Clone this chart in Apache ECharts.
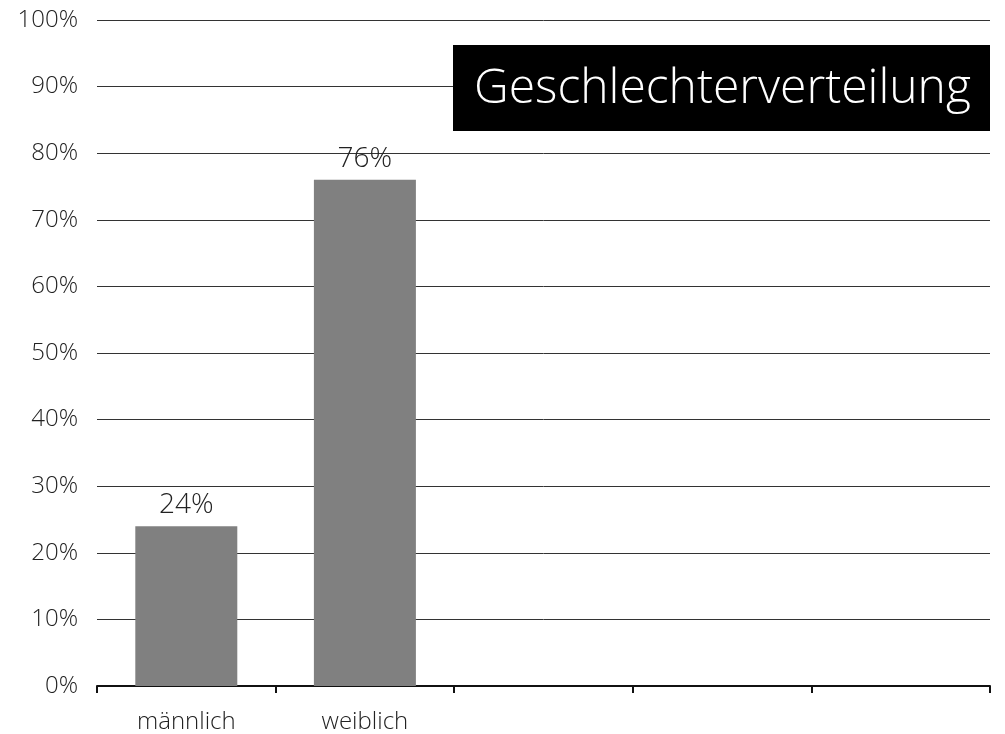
<!DOCTYPE html>
<html>
<head>
<meta charset="utf-8">
<script src="https://cdn.jsdelivr.net/npm/echarts@6/dist/echarts.min.js"></script>
<style>
    html, body {margin: 0; padding: 0; background: #fff;}
    #chart {width: 1005px; height: 734px;}
</style>
</head>
<body>
<div id="chart"></div>
<script>
// Geschlechterverteilung
const categories = ['männlich', 'weiblich', '', '', ''];
const shares = [24, 76, null, null, null];
const yTicks = [0, 10, 20, 30, 40, 50, 60, 70, 80, 90, 100];
const titleText = 'Geschlechterverteilung';

const font = '"Open Sans"';

let chart = echarts.init(document.getElementById('chart'));

let option = {
    animation: false,
    graphic: [{
        type: 'rect',
        left: 453,
        top: 45,
        z: 100,
        shape: {width: 537, height: 86},
        style: {fill: '#000'}
    }, {
        type: 'text',
        left: 474,
        top: 65,
        z: 101,
        style: {
            text: titleText,
            fill: '#fff',
            font: '300 48px ' + font
        }
    }],
    grid: {
        left: 97,
        right: 15,
        top: 20,
        bottom: 48
    },
    xAxis: {
        type: 'category',
        data: categories,
        axisLine: {lineStyle: {color: '#111', width: 2}},
        axisTick: {show: true, length: 7, lineStyle: {color: '#111', width: 2}},
        axisLabel: {
            color: '#222',
            fontFamily: font,
            fontWeight: 300,
            fontSize: 24,
            margin: 24
        }
    },
    yAxis: {
        type: 'value',
        min: yTicks[0],
        max: yTicks[yTicks.length - 1],
        interval: 10,
        axisLine: {show: false},
        axisTick: {show: false},
        splitLine: {lineStyle: {color: '#333', width: 1}},
        axisLabel: {
            color: '#222',
            fontFamily: font,
            fontWeight: 300,
            fontSize: 24,
            margin: 19,
            formatter: '{value}%'
        }
    },
    series: [{
        type: 'bar',
        data: shares,
        barWidth: 102,
        itemStyle: {color: '#808080'},
        label: {
            show: true,
            position: 'top',
            distance: 7,
            color: '#222',
            fontFamily: font,
            fontWeight: 300,
            fontSize: 28,
            formatter: '{c}%'
        }
    }]
};

chart.setOption(option);
</script>
</body>
</html>
